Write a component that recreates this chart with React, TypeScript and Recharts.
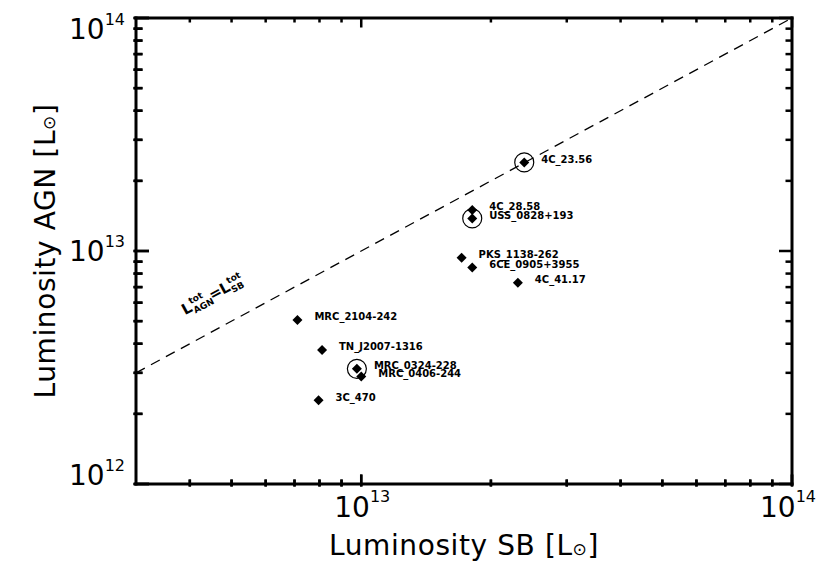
import React from 'react';
import { ScatterChart, Scatter, XAxis, YAxis, ReferenceLine, ReferenceDot } from 'recharts';

const sourceNames = [
  '4C_23.56', '4C_28.58', 'USS_0828+193', 'PKS_1138-262', '6CE_0905+3955', '4C_41.17',
  'MRC_2104-242', 'TN_J2007-1316', 'MRC_0324-228', 'MRC_0406-244', '3C_470',
];
const lumSB = [2.39e13, 1.81e13, 1.81e13, 1.71e13, 1.81e13, 2.31e13, 7.11e12, 8.11e12, 9.77e12, 1.0e13, 7.96e12];
const lumAGN = [2.4e13, 1.5e13, 1.38e13, 9.36e12, 8.5e12, 7.31e12, 5.06e12, 3.76e12, 3.12e12, 2.89e12, 2.29e12];
const circledSources = ['4C_23.56', 'USS_0828+193', 'MRC_0324-228'];

const xDomain = [3e12, 1e14];
const yDomain = [1e12, 1e14];
const xTicks = [4e12, 5e12, 6e12, 7e12, 8e12, 9e12, 1e13, 2e13, 3e13, 4e13, 5e13, 6e13, 7e13, 8e13, 9e13, 1e14];
const yTicks = [1e12, 2e12, 3e12, 4e12, 5e12, 6e12, 7e12, 8e12, 9e12, 1e13, 2e13, 3e13, 4e13, 5e13, 6e13, 7e13, 8e13, 9e13, 1e14];
const equalityLine = [{ x: 3e12, y: 3e12 }, { x: 1e14, y: 1e14 }];
const equalityLabelAnchor = { x: 3.9e12, y: 5.3e12 };

const xTitle = 'Luminosity SB [L';
const yTitle = 'Luminosity AGN [L';
const sunSymbol = '⊙';

const points = sourceNames.map((name, i) => ({
  name,
  x: lumSB[i],
  y: lumAGN[i],
  circled: circledSources.includes(name),
}));

const CHART_W = 811;
const CHART_H = 563;
const MARGIN = { top: 9, right: 26, bottom: 0, left: 0 };
const LEFT_W = 128;
const BOTTOM_H = 87;
const PLOT_W = CHART_W - MARGIN.left - MARGIN.right - LEFT_W - 1;
const PLOT_H = CHART_H - MARGIN.top - MARGIN.bottom - BOTTOM_H - 1;

const FONT = "'DejaVu Sans', sans-serif";

function decade(v: number) {
  const l = Math.log10(v);
  const e = Math.round(l);
  return { e, major: Math.abs(l - e) < 1e-6 };
}

function BottomTick(props: any) {
  const { x, y, payload } = props;
  const { e, major } = decade(payload.value);
  const shift = e === 14 ? -4 : 1;
  if (!major) return null;
  return (
    <text x={x + shift} y={y + 33} textAnchor="middle" fontFamily={FONT} fontSize={28} fill="#000">
      10<tspan dy={-15} fontSize={16}>{e}</tspan>
    </text>
  );
}

function LeftTick(props: any) {
  const { x, y, payload } = props;
  const { e, major } = decade(payload.value);
  let dy = 10;
  if (e === 14) dy = 21;
  if (e === 12) dy = 1;
  if (!major) return null;
  return (
    <text x={x - 11} y={y + dy} textAnchor="end" fontFamily={FONT} fontSize={28} fill="#000">
      10<tspan dy={-14} fontSize={16}>{e}</tspan>
    </text>
  );
}

// top edge ticks, plus the matching bottom edge ticks
function TopTick(props: any) {
  const { x, y, payload } = props;
  const { major } = decade(payload.value);
  const len = major ? 9.5 : 4.5;
  return (
    <g>
      <rect x={x - 1.25} y={y} width={2.5} height={len} fill="#000" />
      <rect x={x - 1.25} y={y + PLOT_H - len} width={2.5} height={len + 2.5} fill="#000" />
    </g>
  );
}

// right edge ticks, plus the matching left edge ticks
function RightTick(props: any) {
  const { x, y, payload } = props;
  const { major } = decade(payload.value);
  const len = major ? 13 : 6.5;
  return (
    <g>
      <rect x={x - len} y={y - 1.25} width={len} height={2.5} fill="#000" />
      <rect x={x - PLOT_W - 2.5} y={y - 1.25} width={len + 2.5} height={2.5} fill="#000" />
    </g>
  );
}

// inward tick marks on the bottom edge, positioned by the x scale
function BottomMark({ cx, cy, major }: any) {
  if (cx == null || cy == null) return null;
  const len = major ? 9.5 : 4.5;
  return <rect x={cx - 1.25} y={cy - len} width={2.5} height={len + 2.5} fill="#000" />;
}

// inward tick marks on the left edge, positioned by the y scale
function LeftMark({ cx, cy, major }: any) {
  if (cx == null || cy == null) return null;
  const len = major ? 13 : 6.5;
  return <rect x={cx - 2.5} y={cy - 1.25} width={len + 2.5} height={2.5} fill="#000" />;
}

function SourceMark(props: any) {
  const { cx, cy, payload } = props;
  if (cx == null || cy == null) return null;
  const h = 5;
  return (
    <g>
      <polygon points={`${cx},${cy - h} ${cx + h},${cy} ${cx},${cy + h} ${cx - h},${cy}`} fill="#000" />
      {payload.circled && <circle cx={cx} cy={cy} r={9.5} fill="none" stroke="#000" strokeWidth={1.2} />}
      <text x={cx + 17} y={cy + 0.5} fontFamily={FONT} fontWeight="bold" fontSize={10} fill="#000">
        {payload.name}
      </text>
    </g>
  );
}

function EqualityLabel(props: any) {
  const { cx, cy } = props;
  if (cx == null || cy == null) return null;
  return (
    <g transform={`translate(${cx},${cy}) rotate(-28.4)`} fontFamily={FONT} fontWeight="bold" fill="#000">
      <text x={0} y={0} fontSize={15}>L</text>
      <text x={10} y={-7} fontSize={9}>tot</text>
      <text x={10} y={3.5} fontSize={9}>AGN</text>
      <text x={31} y={0} fontSize={15}>=</text>
      <text x={43} y={0} fontSize={15}>L</text>
      <text x={53} y={-7} fontSize={9}>tot</text>
      <text x={53} y={3.5} fontSize={9}>SB</text>
    </g>
  );
}

function XTitle(props: any) {
  const vb = props.viewBox || { x: LEFT_W, y: 476, width: 656, height: BOTTOM_H };
  return (
    <text x={vb.x + vb.width / 2} y={vb.y + 71} textAnchor="middle" fontFamily={FONT} fontSize={28} letterSpacing={0.6} fill="#000">
      {xTitle}
      <tspan fontSize={17}>{sunSymbol}</tspan>]
    </text>
  );
}

function YTitle(props: any) {
  const vb = props.viewBox || { x: 0, y: 10, width: LEFT_W, height: 466 };
  const x = vb.x + 47;
  const y = vb.y + vb.height / 2;
  return (
    <text x={x} y={y} transform={`rotate(-90, ${x}, ${y})`} textAnchor="middle" fontFamily={FONT} fontSize={28} letterSpacing={0.6} fill="#000">
      {yTitle}
      <tspan fontSize={17}>{sunSymbol}</tspan>]
    </text>
  );
}

const axisLineStyle = { stroke: '#000', strokeWidth: 3, strokeLinecap: 'square' as const };

export default function App() {
  return (
    <div style={{ width: CHART_W, height: CHART_H, background: '#fff' }}>
      <ScatterChart width={CHART_W} height={CHART_H} margin={MARGIN}>
        <XAxis xAxisId="b" dataKey="x" type="number" scale="log" domain={xDomain} allowDataOverflow ticks={xTicks} interval={0}
          orientation="bottom" height={BOTTOM_H} tickSize={0} tickMargin={0} tickLine={false} axisLine={axisLineStyle}
          tick={(p: any) => <BottomTick {...p} />} label={(p: any) => <XTitle {...p} />} />
        <XAxis xAxisId="t" dataKey="x" type="number" scale="log" domain={xDomain} allowDataOverflow ticks={xTicks} interval={0}
          orientation="top" height={1} tickSize={0} tickMargin={0} tickLine={false} axisLine={axisLineStyle}
          tick={(p: any) => <TopTick {...p} />} />
        <YAxis yAxisId="l" dataKey="y" type="number" scale="log" domain={yDomain} allowDataOverflow ticks={yTicks} interval={0}
          orientation="left" width={LEFT_W} tickSize={0} tickMargin={0} tickLine={false} axisLine={axisLineStyle}
          tick={(p: any) => <LeftTick {...p} />} label={(p: any) => <YTitle {...p} />} />
        <YAxis yAxisId="r" dataKey="y" type="number" scale="log" domain={yDomain} allowDataOverflow ticks={yTicks} interval={0}
          orientation="right" width={1} tickSize={0} tickMargin={0} tickLine={false} axisLine={axisLineStyle}
          tick={(p: any) => <RightTick {...p} />} />
        {xTicks.map((v) => (
          <ReferenceDot key={`bx${v}`} xAxisId="b" yAxisId="l" x={v} y={yDomain[0]} r={0} ifOverflow="visible"
            shape={(p: any) => <BottomMark cx={p.cx} cy={p.cy} major={decade(v).major} />} />
        ))}
        {yTicks.map((v) => (
          <ReferenceDot key={`ly${v}`} xAxisId="b" yAxisId="l" x={xDomain[0]} y={v} r={0} ifOverflow="visible"
            shape={(p: any) => <LeftMark cx={p.cx} cy={p.cy} major={decade(v).major} />} />
        ))}
        <ReferenceLine xAxisId="b" yAxisId="l" segment={equalityLine} stroke="#000" strokeWidth={1.3} strokeDasharray="10 7" ifOverflow="visible" />
        <ReferenceDot xAxisId="b" yAxisId="l" x={equalityLabelAnchor.x} y={equalityLabelAnchor.y} r={0} ifOverflow="visible"
          shape={(p: any) => <EqualityLabel {...p} />} />
        <Scatter xAxisId="b" yAxisId="l" data={points} isAnimationActive={false} shape={(p: any) => <SourceMark {...p} />} />
      </ScatterChart>
    </div>
  );
}
